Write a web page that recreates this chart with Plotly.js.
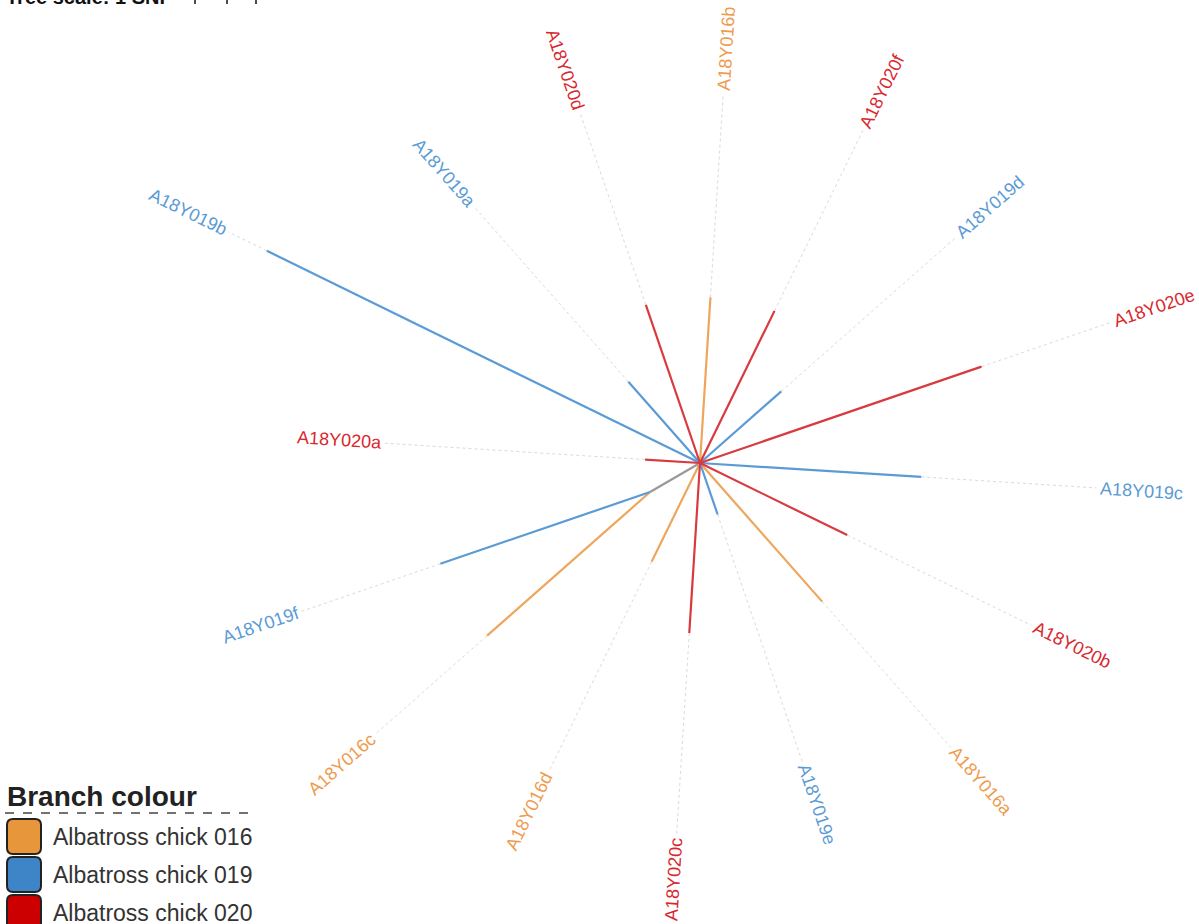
<!DOCTYPE html>
<html><head><meta charset="utf-8">
<script src="https://cdn.plot.ly/plotly-3.0.1.min.js"></script>
<style>html,body{margin:0;padding:0;background:#fff}#chart{width:1199px;height:924px}</style>
</head><body><div id="chart"></div>
<script>
// ---------------- data ----------------
const leafNames   = ['A18Y020a','A18Y019b','A18Y019a','A18Y020d','A18Y016b','A18Y020f','A18Y019d','A18Y020e','A18Y019c','A18Y020b','A18Y016a','A18Y019e','A18Y020c','A18Y016d','A18Y016c','A18Y019f'];
const leafGroups  = ['020','019','019','020','016','020','019','020','019','020','016','019','020','016','016','019'];
const leafParents = ['root','root','root','root','root','root','root','root','root','root','root','root','root','root','n1','n1'];
const leafLengths = [1.00, 8.77, 1.97, 3.04, 3.02, 3.08, 1.97, 5.41, 4.03, 2.98, 3.36, 0.99, 3.10, 2.00, 3.95, 4.03]; // SNPs
const internalNodes   = ['n1'];
const internalParents = ['root'];
const internalLengths = [1.05];
const groupKeys   = ['016','019','020'];
const groupLabels = ['Albatross chick 016','Albatross chick 019','Albatross chick 020'];
const legendTitle = 'Branch colour';
const scaleText   = 'Tree scale: 1 SNP';

// ---------------- styling / layout constants ----------------
const W = 1199, H = 924, CX = 700, CY = 463, PX = 55; // px per SNP
const startAngle = 176.4;
const labelBase = 5.25, labelSlope = 0.49, labelGap = 3;
const lineCol  = {'016':'#EEA65C','019':'#5B9BD5','020':'#D93A3F'};
const labelCol = {'016':'#EE9B4E','019':'#5B9BD5','020':'#D9272E'};
const boxCol   = {'016':'#E8963C','019':'#3D85C6','020':'#CC0000'};
const FONT = '"Liberation Sans", Arial, sans-serif';
const LSIZE = 18;

// ---------------- tree build ----------------
const nodes = {root:{name:'root',children:[],len:0}};
internalNodes.forEach((n,i)=>nodes[n]={name:n,children:[],len:internalLengths[i],parent:internalParents[i]});
leafNames.forEach((n,i)=>nodes[n]={name:n,children:[],len:leafLengths[i],parent:leafParents[i],leaf:true,group:leafGroups[i]});
function attach(name){const nd=nodes[name]; if(!nd.parent) return; const p=nodes[nd.parent]; if(!p.children.includes(name)) p.children.push(name); attach(nd.parent);}
leafNames.forEach(attach);
function nLeaves(name){const nd=nodes[name]; return nd.leaf?1:nd.children.reduce((s,c)=>s+nLeaves(c),0);}
const step = 360/leafNames.length;
function place(name,x,y,a0){
  const nd=nodes[name]; nd.x=x; nd.y=y; let a=a0;
  nd.children.forEach(c=>{
    const cn=nodes[c]; const span=nLeaves(c)*step; const mid=a-span/2; const r=mid*Math.PI/180;
    cn.dir=mid; place(c, x+cn.len*Math.cos(r), y+cn.len*Math.sin(r), a); a-=span;
  });
}
place('root',0,0,startAngle+step/2);

// ---------------- traces ----------------
const traces = [];
const dx=[], dy=[];
const annotations = [];
const cv=document.createElement('canvas').getContext('2d');
cv.font = LSIZE+'px '+FONT;
leafNames.forEach(n=>{
  const nd=nodes[n]; const r=nd.dir*Math.PI/180; const d=[Math.cos(r),Math.sin(r)];
  const p=[nd.x,nd.y]; const pr=Math.hypot(p[0],p[1]);
  const R=labelBase+labelSlope*pr; const pd=p[0]*d[0]+p[1]*d[1];
  const L=-pd+Math.sqrt(pd*pd-pr*pr+R*R);
  const inner=[p[0]+L*d[0],p[1]+L*d[1]];
  dx.push(p[0],inner[0],null); dy.push(p[1],inner[1],null);
  const w=cv.measureText(n).width/PX;
  const off=labelGap/PX+w/2;
  let th=((nd.dir%360)+540)%360-180;
  let ta=(th>90||th<-90)?180-th:-th;
  ta=((ta%360)+540)%360-180;
  annotations.push({x:inner[0]+off*d[0],y:inner[1]+off*d[1],xref:'x',yref:'y',text:n,showarrow:false,
    textangle:ta,xanchor:'center',yanchor:'middle',font:{family:FONT,size:LSIZE,color:labelCol[nd.group]}});
});
traces.push({type:'scatter',mode:'lines',x:dx,y:dy,line:{color:'#dadada',width:1,dash:'dot'},hoverinfo:'skip',showlegend:false});
const ix=[], iy=[];
internalNodes.forEach(n=>{const nd=nodes[n]; const p=nodes[nd.parent]; ix.push(p.x,nd.x,null); iy.push(p.y,nd.y,null);});
traces.push({type:'scatter',mode:'lines',x:ix,y:iy,line:{color:'#999999',width:2.2},hoverinfo:'skip',showlegend:false});
groupKeys.forEach(g=>{
  const x=[], y=[];
  leafNames.forEach((n,i)=>{ if(leafGroups[i]!==g) return; const nd=nodes[n]; const p=nodes[nd.parent]; x.push(p.x,nd.x,null); y.push(p.y,nd.y,null);});
  traces.push({type:'scatter',mode:'lines',x:x,y:y,line:{color:lineCol[g],width:2.2},name:g,hoverinfo:'skip',showlegend:false});
});

// ---------------- legend & scale (paper coords) ----------------
const px2x = v=>v/W, px2y = v=>1-v/H;
function rr(x0,y0,x1,y1,r){
  const P=(a,b)=>px2x(a).toFixed(5)+','+px2y(b).toFixed(5);
  return 'M'+P(x0+r,y0)+' L'+P(x1-r,y0)+' Q'+P(x1,y0)+' '+P(x1,y0+r)+' L'+P(x1,y1-r)+' Q'+P(x1,y1)+' '+P(x1-r,y1)+
         ' L'+P(x0+r,y1)+' Q'+P(x0,y1)+' '+P(x0,y1-r)+' L'+P(x0,y0+r)+' Q'+P(x0,y0)+' '+P(x0+r,y0)+' Z';
}
const shapes = [];
shapes.push({type:'line',xref:'paper',yref:'paper',x0:px2x(5),x1:px2x(253),y0:px2y(813),y1:px2y(813),line:{color:'#444',width:1.4,dash:'dash'}});
groupKeys.forEach((g,i)=>{
  const top=819+i*38;
  shapes.push({type:'path',xref:'paper',yref:'paper',path:rr(7,top,41,top+35,6),fillcolor:boxCol[g],line:{color:'#222',width:2}});
  annotations.push({xref:'paper',yref:'paper',x:px2x(51),y:px2y(top+18),xanchor:'left',yanchor:'middle',showarrow:false,
    text:groupLabels[i],font:{family:FONT,size:23,color:'#333'}});
});
annotations.push({xref:'paper',yref:'paper',x:px2x(5),y:px2y(796),xanchor:'left',yanchor:'middle',showarrow:false,
  text:legendTitle,font:{family:FONT,size:28,color:'#222',weight:700}});
annotations.push({xref:'paper',yref:'paper',x:px2x(4),y:px2y(-3),xanchor:'left',yanchor:'middle',showarrow:false,
  text:scaleText,font:{family:FONT,size:20,color:'#111',weight:700}});
[195,227,256].forEach(t=>shapes.push({type:'line',xref:'paper',yref:'paper',x0:px2x(t),x1:px2x(t),y0:px2y(-3),y1:px2y(4),line:{color:'#111',width:1.5}}));

const layout = {
  width:W,height:H,margin:{l:0,r:0,t:0,b:0},paper_bgcolor:'#fff',plot_bgcolor:'#fff',showlegend:false,
  xaxis:{range:[-CX/PX,(W-CX)/PX],visible:false,fixedrange:true},
  yaxis:{range:[-(H-CY)/PX,CY/PX],visible:false,fixedrange:true},
  shapes:shapes,annotations:annotations
};
Plotly.newPlot('chart',traces,layout,{displayModeBar:false,staticPlot:true});
</script></body></html>
